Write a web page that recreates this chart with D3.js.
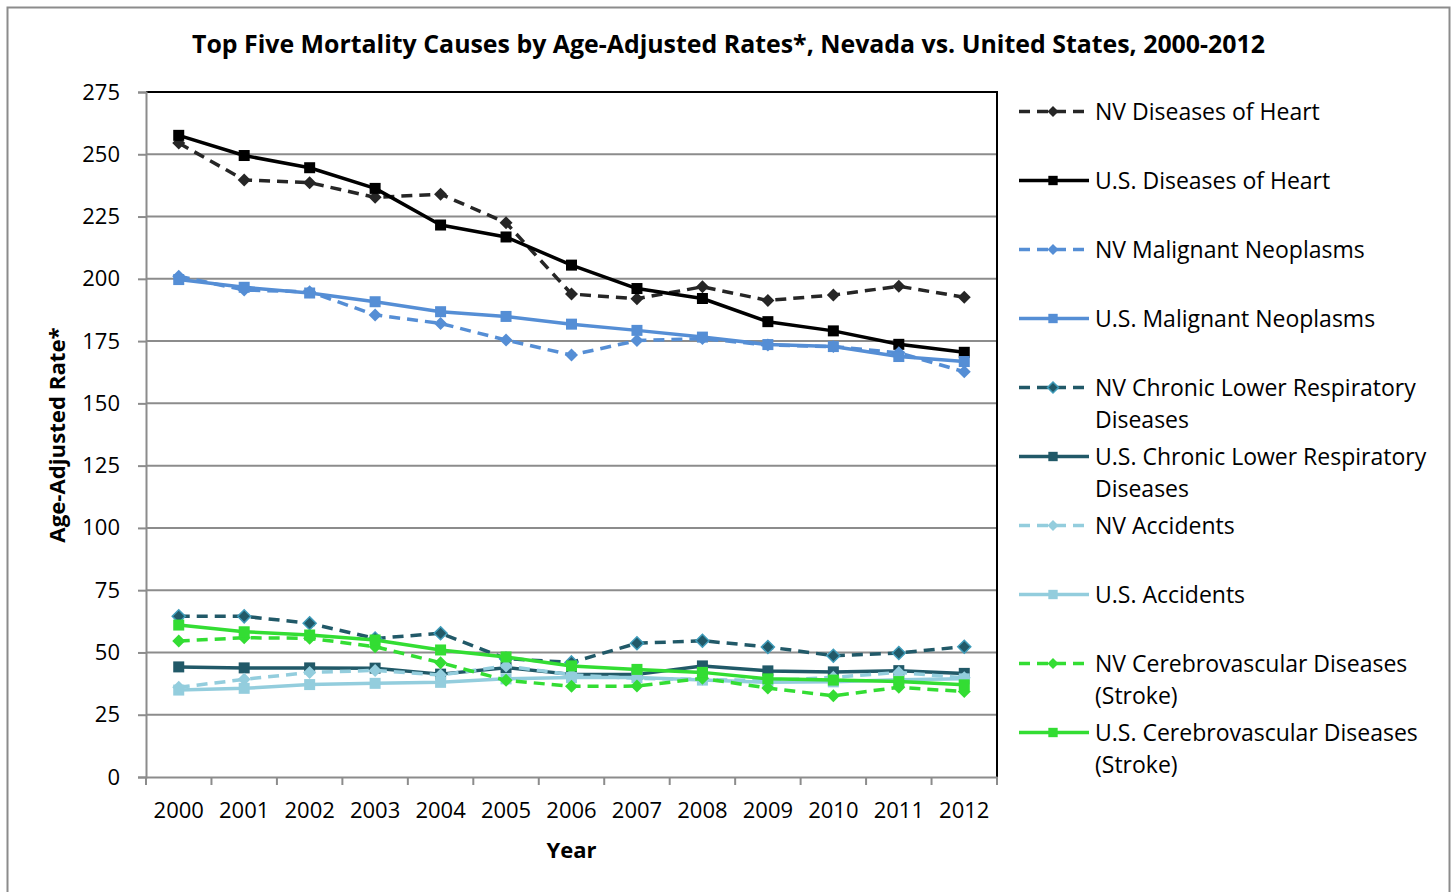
<!DOCTYPE html>
<html>
<head>
<meta charset="utf-8">
<script src="https://cdn.jsdelivr.net/npm/d3@7"></script>
<style>
  body { margin: 0; background: #fff; }
  text { font-family: "Open Sans", sans-serif; fill: #000; }
</style>
</head>
<body>
<div id="vis"></div>
<script>
// data
const YEARS = ["2000","2001","2002","2003","2004","2005","2006","2007","2008","2009","2010","2011","2012"];
const Y_TICKS = [0, 25, 50, 75, 100, 125, 150, 175, 200, 225, 250, 275];

const NV_HEART = [254.5, 239.7, 238.6, 232.7, 234.0, 222.5, 193.9, 192.0, 196.8, 191.3, 193.5, 197.0, 192.6];
const US_HEART = [257.6, 249.5, 244.6, 236.3, 221.6, 216.8, 205.5, 196.1, 192.1, 182.8, 179.1, 173.7, 170.5];
const NV_CANCER = [201.0, 195.5, 194.8, 185.5, 182.1, 175.4, 169.4, 175.2, 176.0, 173.4, 172.8, 170.3, 162.7];
const US_CANCER = [199.7, 196.6, 194.3, 190.8, 186.8, 184.9, 181.8, 179.3, 176.6, 173.6, 172.8, 168.8, 166.8];
const NV_CLRD = [64.5, 64.5, 61.7, 55.6, 57.7, 47.5, 46.0, 53.7, 54.7, 52.2, 48.7, 49.8, 52.3];
const US_CLRD = [44.2, 43.8, 43.8, 43.7, 41.3, 43.9, 41.2, 41.2, 44.6, 42.6, 42.2, 42.7, 41.6];
const NV_ACCIDENT = [36.0, 39.2, 42.0, 42.8, 40.9, 44.6, 41.0, 39.6, 39.2, 38.6, 40.0, 42.0, 39.8];
const US_ACCIDENT = [34.9, 35.6, 37.1, 37.6, 38.0, 39.4, 39.9, 39.9, 38.9, 38.0, 38.2, 39.0, 39.4];
const NV_STROKE = [54.6, 55.9, 55.7, 52.3, 45.9, 38.8, 36.4, 36.5, 39.6, 35.7, 32.6, 36.0, 34.3];
const US_STROKE = [61.0, 58.3, 57.0, 55.0, 51.0, 48.2, 44.6, 43.2, 42.0, 39.4, 38.9, 38.3, 37.0];

const SERIES = [
  {name: ["NV Diseases of Heart"], values: NV_HEART, color: "#262626", dash: true, mark: "diamond"},
  {name: ["U.S. Diseases of Heart"], values: US_HEART, color: "#000000", dash: false, mark: "square"},
  {name: ["NV Malignant Neoplasms"], values: NV_CANCER, color: "#558ED5", dash: true, mark: "diamond"},
  {name: ["U.S. Malignant Neoplasms"], values: US_CANCER, color: "#558ED5", dash: false, mark: "square"},
  {name: ["NV Chronic Lower Respiratory", "Diseases"], values: NV_CLRD, color: "#215968", dash: true, mark: "diamond", edge: "#3F9CBA"},
  {name: ["U.S. Chronic Lower Respiratory", "Diseases"], values: US_CLRD, color: "#215968", dash: false, mark: "square"},
  {name: ["NV Accidents"], values: NV_ACCIDENT, color: "#93CDDD", dash: true, mark: "diamond"},
  {name: ["U.S. Accidents"], values: US_ACCIDENT, color: "#93CDDD", dash: false, mark: "square"},
  {name: ["NV Cerebrovascular Diseases", "(Stroke)"], values: NV_STROKE, color: "#33DD33", dash: true, mark: "diamond"},
  {name: ["U.S. Cerebrovascular Diseases", "(Stroke)"], values: US_STROKE, color: "#33DD33", dash: false, mark: "square"}
];

// frame
const FRAME_WIDTH = 1455;
const FRAME_HEIGHT = 892;
const PLOT = {left: 146, right: 997, top: 92, bottom: 777};
const GRID = "#8C8C8C";

const FRAME = d3.select("#vis")
                .append("svg")
                  .attr("width", FRAME_WIDTH)
                  .attr("height", FRAME_HEIGHT);

// outer chart border
FRAME.append("rect")
     .attr("x", 7.5).attr("y", 7.5)
     .attr("width", 1442).attr("height", 920)
     .attr("fill", "#fff")
     .attr("stroke", "#8C8C8C")
     .attr("stroke-width", 2);

// scales
const X_SCALE = d3.scaleBand()
                  .domain(YEARS)
                  .range([PLOT.left, PLOT.right]);

const Y_SCALE = d3.scaleLinear()
                  .domain([0, 275])
                  .range([PLOT.bottom, PLOT.top]);

const xPos = (i) => X_SCALE(YEARS[i]) + X_SCALE.bandwidth() / 2;

// gridlines
FRAME.append("g")
     .selectAll("line")
     .data(Y_TICKS.filter((t) => t > 0 && t < 275))
     .enter()
     .append("line")
       .attr("x1", PLOT.left).attr("x2", PLOT.right)
       .attr("y1", (d) => Y_SCALE(d)).attr("y2", (d) => Y_SCALE(d))
       .attr("stroke", GRID)
       .attr("stroke-width", 2);

// plot area border (top/right are black)
FRAME.append("path")
     .attr("d", "M" + PLOT.left + "," + PLOT.top + "H" + PLOT.right + "V" + PLOT.bottom)
     .attr("fill", "none")
     .attr("stroke", "#000")
     .attr("stroke-width", 2);

// y axis
const Y_AXIS = FRAME.append("g")
     .attr("transform", "translate(" + PLOT.left + ",0)")
     .call(d3.axisLeft(Y_SCALE).tickValues(Y_TICKS).tickSize(8).tickPadding(18));
Y_AXIS.select(".domain").attr("stroke", GRID).attr("stroke-width", 2);
Y_AXIS.selectAll(".tick line").attr("stroke", GRID).attr("stroke-width", 2);
Y_AXIS.selectAll(".tick text")
      .attr("font-size", "22px")
      .attr("font-family", "'Open Sans', sans-serif")
      .attr("fill", "#000");

// x axis
const X_AXIS = FRAME.append("g")
     .attr("transform", "translate(0," + PLOT.bottom + ")")
     .call(d3.axisBottom(X_SCALE).tickSize(0).tickPadding(25));
X_AXIS.select(".domain").attr("stroke", GRID).attr("stroke-width", 2);
X_AXIS.selectAll(".tick text")
      .attr("font-size", "22px")
      .attr("font-family", "'Open Sans', sans-serif")
      .attr("fill", "#000");

// x tick marks sit between categories
X_AXIS.append("g")
      .selectAll("line")
      .data(d3.range(YEARS.length + 1))
      .enter()
      .append("line")
        .attr("x1", (i) => PLOT.left + i * X_SCALE.step())
        .attr("x2", (i) => PLOT.left + i * X_SCALE.step())
        .attr("y1", 0).attr("y2", 8)
        .attr("stroke", GRID)
        .attr("stroke-width", 2);

// markers
function drawMark(g, s, x, y, scale) {
  if (s.mark === "square") {
    const h = 5.5 * scale;
    g.append("rect")
     .attr("x", x - h).attr("y", y - h)
     .attr("width", 2 * h).attr("height", 2 * h)
     .attr("fill", s.color);
  } else {
    const h = 6.5 * scale;
    g.append("path")
     .attr("d", "M" + x + "," + (y - h) + "L" + (x + h) + "," + y + "L" + x + "," + (y + h) + "L" + (x - h) + "," + y + "Z")
     .attr("fill", s.color)
     .attr("stroke", s.edge || s.color)
     .attr("stroke-width", s.edge ? 1.5 : 0);
  }
}

// lines
const LINE = d3.line()
               .x((d, i) => xPos(i))
               .y((d) => Y_SCALE(d));

SERIES.forEach((s) => {
  const g = FRAME.append("g");
  g.append("path")
   .attr("d", LINE(s.values))
   .attr("fill", "none")
   .attr("stroke", s.color)
   .attr("stroke-width", 3.5)
   .attr("stroke-linejoin", "round")
   .attr("stroke-dasharray", s.dash ? "11,7" : null);
  s.values.forEach((v, i) => drawMark(g, s, xPos(i), Y_SCALE(v), 1));
});

// legend
const LEGEND = FRAME.append("g");
let baseY = 119.5;
SERIES.forEach((s) => {
  const g = LEGEND.append("g");
  const ly = baseY - 8;
  g.append("line")
   .attr("x1", 1019).attr("x2", 1089)
   .attr("y1", ly).attr("y2", ly)
   .attr("stroke", s.color)
   .attr("stroke-width", 3.5)
   .attr("stroke-dasharray", s.dash ? "11,7" : null);
  drawMark(g, s, 1053, ly, 0.85);
  s.name.forEach((t, k) => {
    g.append("text")
     .attr("x", 1095)
     .attr("y", baseY + k * 32.5)
     .attr("font-size", "23px")
     .text(t);
  });
  baseY += 69;
});

// titles
FRAME.append("text")
     .attr("x", 728.5).attr("y", 53)
     .attr("text-anchor", "middle")
     .attr("font-size", "24.9px")
     .attr("font-weight", "bold")
     .text("Top Five Mortality Causes by Age-Adjusted Rates*, Nevada vs. United States, 2000-2012");

FRAME.append("text")
     .attr("x", (PLOT.left + PLOT.right) / 2).attr("y", 858)
     .attr("text-anchor", "middle")
     .attr("font-size", "22px")
     .attr("font-weight", "bold")
     .text("Year");

FRAME.append("text")
     .attr("transform", "translate(65,435) rotate(-90)")
     .attr("text-anchor", "middle")
     .attr("font-size", "22.2px")
     .attr("font-weight", "bold")
     .text("Age-Adjusted Rate*");
</script>
</body>
</html>
